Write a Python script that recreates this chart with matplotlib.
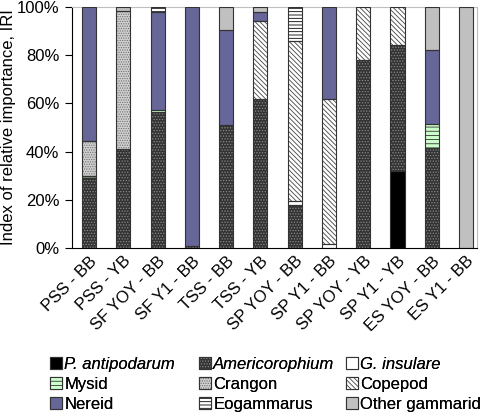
import numpy as np
import matplotlib
matplotlib.use("Agg")
import matplotlib.pyplot as plt
import matplotlib.transforms as mtransforms
from matplotlib.patches import Patch
from matplotlib.ticker import FuncFormatter

plt.rcParams['font.family'] = ['Liberation Sans', 'DejaVu Sans']
plt.rcParams['hatch.linewidth'] = 0.6

categories = ["PSS - BB", "PSS - YB", "SF YOY - BB", "SF Y1 - BB", "TSS - BB", "TSS - YB",
              "SP YOY - BB", "SP Y1 - BB", "SP YOY - YB", "SP Y1 - YB", "ES YOY - BB", "ES Y1 - BB"]

p_antipodarum = [0, 0, 0, 0, 0, 0, 0, 0, 0, 31.8, 0, 0]
americorophium = [29, 41.2, 56.5, 0.7, 51, 62, 17.9, 0, 78, 52.4, 41.5, 0]
g_insulare = [0, 0, 0, 0, 0, 0, 1.4, 1.5, 0, 0, 0, 0]
mysid = [1, 0, 0.8, 0, 0, 0, 0, 0, 0, 0, 10, 0]
crangon = [14.3, 57, 0, 0, 0, 0, 0, 0, 0, 0, 0, 0]
copepod = [0, 0, 0, 0, 0, 32.3, 66.4, 60.5, 22, 15.8, 0, 0]
nereid = [55.7, 0, 40.5, 99.3, 39.4, 3.5, 0, 38, 0, 0, 30.5, 0]
eogammarus = [0, 0, 2.2, 0, 0, 0, 14.3, 0, 0, 0, 0, 0]
other_gammarid = [0, 1.8, 0, 0, 9.6, 2.2, 0, 0, 0, 0, 18, 100]

series = [
    ("P. antipodarum", p_antipodarum, dict(fc="#000000", hc="#000000", hatch=None), True),
    ("Americorophium", americorophium, dict(fc="#333333", hc="#8a8a8a", hatch="......"), True),
    ("G. insulare", g_insulare, dict(fc="#ffffff", hc="#ffffff", hatch=None), True),
    ("Mysid", mysid, dict(fc="#ccffcc", hc="#333333", hatch="----"), False),
    ("Crangon", crangon, dict(fc="#d0d0d0", hc="#707070", hatch="......."), False),
    ("Copepod", copepod, dict(fc="#ffffff", hc="#444444", hatch="\\\\\\\\\\\\\\"), False),
    ("Nereid", nereid, dict(fc="#666699", hc="#666699", hatch=None), False),
    ("Eogammarus", eogammarus, dict(fc="#ffffff", hc="#000000", hatch="-----"), False),
    ("Other gammarid", other_gammarid, dict(fc="#c0c0c0", hc="#c0c0c0", hatch=None), False),
]

FS = 12

fig = plt.figure(figsize=(4.84, 4.13), dpi=100)
ax = fig.add_axes([72/484, 1-248/413, (477-72)/484, (248-7)/413])

x = np.arange(len(categories))
width = 0.41
bottom = np.zeros(len(categories))
edge = "#333333"
handles = []
for name, vals, st, italic in series:
    v = np.array(vals, dtype=float)
    m = v > 0
    ax.bar(x[m], v[m], width, bottom=bottom[m], color=st["fc"], edgecolor=st["hc"],
           hatch=st["hatch"], linewidth=0, zorder=2)
    ax.bar(x[m], v[m], width, bottom=bottom[m], fill=False, edgecolor=edge,
           linewidth=0.8, zorder=3)
    bottom += v
    h1 = Patch(facecolor=st["fc"], edgecolor=st["hc"], hatch=st["hatch"], linewidth=0)
    h2 = Patch(fill=False, edgecolor=edge, linewidth=0.8)
    handles.append(((h1, h2), name, italic))

ax.set_xlim(-0.5, 11.32)
ax.set_ylim(0, 100)
ax.set_yticks(np.arange(0, 101, 20))
ax.yaxis.set_major_formatter(FuncFormatter(lambda v, p: f"{int(v)}%"))
ax.set_xticks(x)
ax.set_xticklabels(categories, rotation=45, ha="right", va="top", rotation_mode="anchor")
offset = mtransforms.ScaledTranslation(-8/100, -4/100, fig.dpi_scale_trans)
for lab in ax.get_xticklabels():
    lab.set_transform(lab.get_transform() + offset)
ax.tick_params(axis="x", length=0, pad=4, labelsize=FS)
ax.tick_params(axis="y", length=5, width=0.8, direction="out", pad=4, labelsize=FS)
ax.set_ylabel("Index of relative importance, IRI", fontsize=FS)
ax.yaxis.set_label_coords(-0.138, 0.5)
for s in ["left", "bottom"]:
    ax.spines[s].set_color("black")
    ax.spines[s].set_linewidth(0.8)
for s in ["top", "right"]:
    ax.spines[s].set_color("#bfbfbf")
    ax.spines[s].set_linewidth(0.8)

columns = [[0, 3, 6], [1, 4, 7], [2, 5, 8]]
col_x = [50, 199, 346]
for cx, col in zip(col_x, columns):
    leg = fig.legend([handles[i][0] for i in col], [handles[i][1] for i in col],
                     loc="upper left", bbox_to_anchor=(cx/484, 1-357/413), ncol=1,
                     frameon=False, fontsize=FS, handlelength=0.7, handleheight=0.7,
                     handletextpad=0.15, labelspacing=0.3,
                     borderpad=0, borderaxespad=0)
    for t, i in zip(leg.get_texts(), col):
        if handles[i][2]:
            t.set_fontstyle("italic")
    fig.add_artist(leg)

fig.savefig("out.png", dpi=100)
